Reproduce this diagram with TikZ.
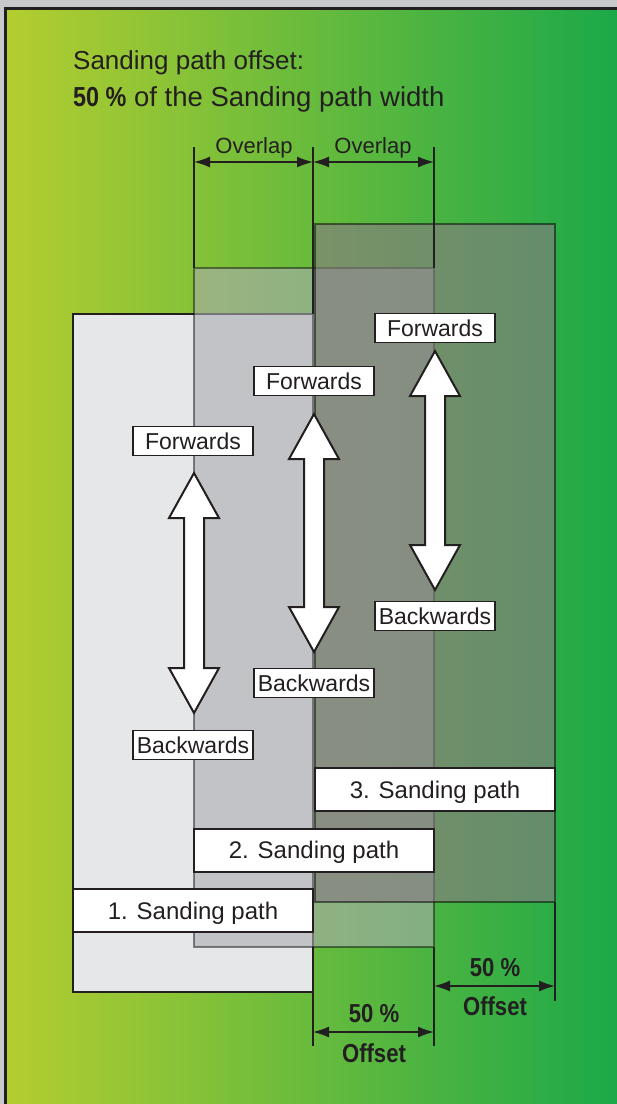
\documentclass[tikz,border=0pt]{standalone}
\usepackage{fontspec}
\setmainfont{Liberation Sans}[BoldFeatures={FakeStretch=0.85}]
\usetikzlibrary{arrows.meta,calc,positioning}
\definecolor{framegray}{RGB}{200,201,203}
\definecolor{inkblack}{RGB}{35,31,32}
\definecolor{limegreen}{RGB}{180,205,48}
\definecolor{midgreen}{RGB}{118,185,62}
\definecolor{deepgreen}{RGB}{22,167,74}
\definecolor{pathone}{RGB}{230,231,232}
\definecolor{pathtwo}{RGB}{170,172,176}
\definecolor{paththree}{RGB}{135,122,130}
\tikzset{>={Latex[length=16pt,width=11pt]}}
\tikzset{
  labelbox/.style={draw=inkblack,fill=white,line width=1.2pt,inner sep=0pt,
    minimum width=120pt,minimum height=29pt,text height=16.5pt,text depth=0pt,
    font=\fontsize{23}{23}\selectfont,text=inkblack},
  pathbox/.style={draw=inkblack,fill=white,line width=2pt,inner sep=0pt,
    minimum width=240pt,minimum height=43pt,text height=17.5pt,text depth=0pt,
    font=\fontsize{24}{24}\selectfont,text=inkblack},
  dimline/.style={draw=inkblack,line width=1.5pt},
  dimtext/.style={inner sep=0pt,anchor=base,font=\fontsize{22}{22}\selectfont,text=inkblack},
  offtext/.style={inner sep=0pt,anchor=base,font=\bfseries\fontsize{26}{26}\selectfont,text=inkblack},
  titletext/.style={inner sep=0pt,anchor=base west,font=\fontsize{26}{26}\selectfont,text=inkblack},
  bigarrow/.style={draw=inkblack,fill=white,line width=2pt,line join=miter}
}
% double block arrow: centre x, top tip, bottom tip
\newcommand{\movearrow}[3]{%
  \draw[bigarrow] (#1,#2) -- ++(25,45) -- ++(-15,0) -- ({#1+10},{#3-45}) -- ++(15,0)
    -- (#1,#3) -- ++(-25,-45) -- ++(15,0) -- ({#1-10},{#2+45}) -- ++(-15,0) -- cycle;}
\begin{document}
\begin{tikzpicture}[x=1pt,y=-1pt]
\useasboundingbox (0,0) rectangle (617,1104);
\clip (0,0) rectangle (617,1104);
\fill[framegray] (0,0) rectangle (617,1104);
\shade[left color=limegreen,middle color=midgreen,right color=deepgreen] (5.5,8.5) rectangle (640,1120);
\draw[inkblack,line width=3pt] (5.5,1120) -- (5.5,8.5) -- (640,8.5);

% the three sanding paths
\draw[fill=pathone,draw=inkblack,line width=2pt] (73,314) rectangle (313,992);
\draw[fill=pathtwo,fill opacity=0.6,draw=black,draw opacity=0.45,line width=1.5pt] (194,268) rectangle (434,947);
\draw[fill=paththree,fill opacity=0.62,draw=black,draw opacity=0.5,line width=1.2pt] (315,224) rectangle (555,902);

% title
\node[titletext] (title1) at (73,69) {Sanding path offset:};
\node[titletext,font=\fontsize{27.5}{27.5}\selectfont] (title2) at (73,106) {\textbf{50 \%} of the Sanding path width};

% overlap dimensions
\coordinate (ovl) at (194,162);
\coordinate (ovm) at (313,162);
\coordinate (ovr) at (434,162);
\draw[dimline] (194,147) -- (194,268);
\draw[dimline] (313,147) -- (313,314);
\draw[dimline] (434,147) -- (434,268);
\draw[dimline,<->] (ovl) -- (ovm);
\draw[dimline,<->] (ovm) -- (ovr);
\node[dimtext] (ovtext1) at (254,153) {Overlap};
\node[dimtext] (ovtext2) at (373,153) {Overlap};

% offset dimensions
\coordinate (offl) at (313,1032);
\coordinate (offm) at (434,1032);
\coordinate (offn) at (434,986);
\coordinate (offr) at (555,986);
\draw[dimline] (313,992) -- (313,1046);
\draw[dimline] (434,947) -- (434,1046);
\draw[dimline] (555,902) -- (555,1001);
\draw[dimline,<->] (offl) -- (offm);
\draw[dimline,<->] (offn) -- (offr);
\node[offtext] (pct1) at (374,1022) {50 \%};
\node[offtext] (offset1) at (374,1062) {Offset};
\node[offtext] (pct2) at (495,976) {50 \%};
\node[offtext] (offset2) at (495,1015) {Offset};

% path names
\node[pathbox] (path3) at (435,789.5) {3. Sanding path};
\node[pathbox] (path2) at (314,850) {2. Sanding path};
\node[pathbox] (path1) at (193,910.5) {1. Sanding path};

% directions
\node[labelbox] (fwd1) at (193,441) {Forwards};
\node[labelbox] (bwd1) at (193,745) {Backwards};
\node[labelbox] (fwd2) at (314,381) {Forwards};
\node[labelbox] (bwd2) at (314,683) {Backwards};
\node[labelbox] (fwd3) at (435,328) {Forwards};
\node[labelbox] (bwd3) at (435,616) {Backwards};
\movearrow{194}{473}{713}
\movearrow{314}{414}{652}
\movearrow{435}{351}{590}
\end{tikzpicture}
\end{document}
